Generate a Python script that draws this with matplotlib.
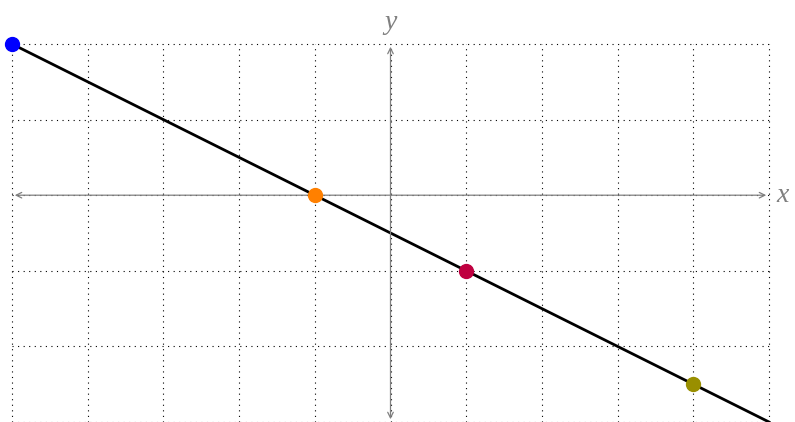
import numpy as np
import matplotlib.pyplot as plt

line_x = [-5, 5]
line_y = [2, -3]
pts_x = [-5, -1, 1, 4]
pts_y = [2, 0, -1, -2.5]
pts_colors = ['#0000ff', '#ff8000', '#bf0040', '#998f00']

fig = plt.figure(figsize=(7.95, 4.22), dpi=100)
ax = fig.add_axes([12/795, 0, 757/795, 378/422])
ax.set_xlim(-5, 5)
ax.set_ylim(-3, 2)
for s in ax.spines.values():
    s.set_visible(False)
ax.set_xticks([])
ax.set_yticks([])

# dotted grid
for gx in range(-5, 6):
    ax.plot([gx, gx], [-3, 2], color='black', lw=0.8, ls=(0, (1, 4)), clip_on=False)
for gy in range(-3, 3):
    ax.plot([-5, 5], [gy, gy], color='black', lw=0.8, ls=(0, (1, 4)), clip_on=False)

# axes with arrows
arrow = dict(arrowstyle='<->', color='#808080', lw=0.9, mutation_scale=10)
ax.annotate('', xy=(5, 0), xytext=(-5, 0), arrowprops=arrow, annotation_clip=False)
ax.annotate('', xy=(0, 2), xytext=(0, -3), arrowprops=arrow, annotation_clip=False)
ax.text(5.1, 0, 'x', fontsize=20, family='Liberation Serif', style='italic', color='#808080',
        va='center', ha='left')
ax.text(0, 2.12, 'y', fontsize=20, family='Liberation Serif', style='italic', color='#808080',
        va='bottom', ha='center')

ax.plot(line_x, line_y, color='black', lw=2, clip_on=False)
for x, y, c in zip(pts_x, pts_y, pts_colors):
    ax.plot(x, y, 'o', color=c, ms=10, clip_on=False, zorder=5)

fig.savefig('out.png', dpi=100)
